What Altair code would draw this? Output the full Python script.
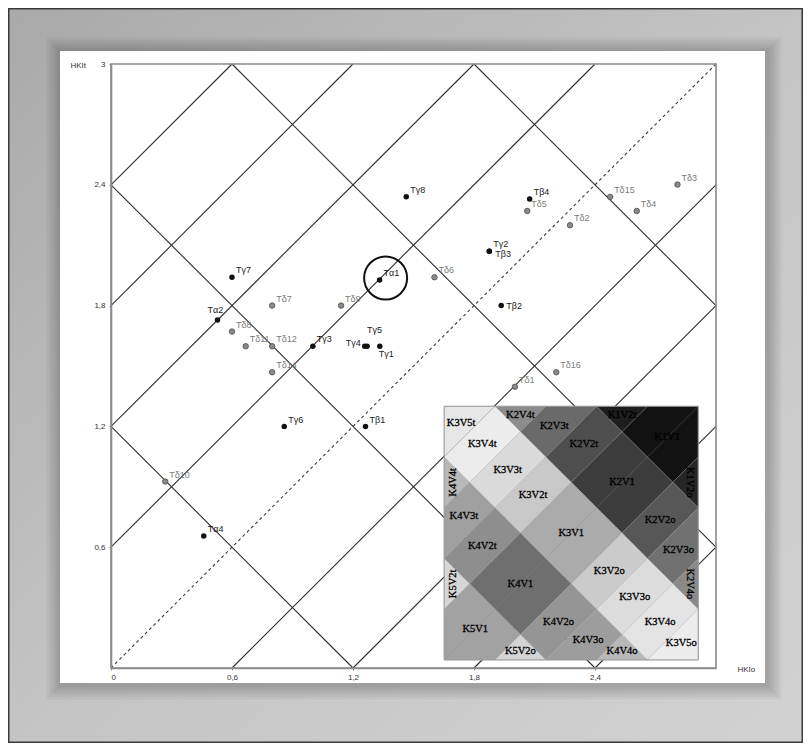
import altair as alt
import pandas as pd

# ------------------------------------------------------------------ data
names = ["Tα1", "Tα2", "Tα4",
         "Tβ1", "Tβ2", "Tβ3", "Tβ4",
         "Tγ1", "Tγ2", "Tγ3", "Tγ4", "Tγ5", "Tγ6", "Tγ7", "Tγ8",
         "Tδ1", "Tδ2", "Tδ3", "Tδ4", "Tδ5", "Tδ6", "Tδ7", "Tδ8",
         "Tδ9", "Tδ10", "Tδ11", "Tδ12", "Tδ14", "Tδ15", "Tδ16"]
hkio = [1.332, 0.528, 0.460,
        1.262, 1.935, 1.876, 2.076,
        1.333, 1.876, 1.001, 1.258, 1.270, 0.859, 0.600, 1.464,
        2.003, 2.276, 2.809, 2.607, 2.064, 1.604, 0.799, 0.600,
        1.141, 0.269, 0.668, 0.799, 0.799, 2.475, 2.208]
hkit = [1.927, 1.729, 0.656,
        1.199, 1.800, 2.070, 2.330,
        1.598, 2.070, 1.598, 1.598, 1.598, 1.199, 1.941, 2.341,
        1.397, 2.199, 2.401, 2.270, 2.270, 1.941, 1.800, 1.671,
        1.800, 0.926, 1.598, 1.598, 1.469, 2.340, 1.469]
circled = ["Tα1"]

x_ticks = [0, 0.6, 1.2, 1.8, 2.4]
y_ticks = [0.6, 1.2, 1.8, 2.4, 3.0]

asc_offsets = [2.4, 1.8, 1.2, 0.6, -0.6, -1.2, -1.8, -2.4]   # lines y = x + c
desc_sums = [1.2, 2.4, 3.6, 4.8]                              # lines x + y = c

# zone map (inset): K bands on x+y, V bands on y-x
k_names = ["K1", "K2", "K3", "K4", "K5"]
k_lo = [4.8, 3.6, 2.4, 1.2, 0.0]
k_hi = [6.0, 4.8, 3.6, 2.4, 1.2]
v_names = ["V5t", "V4t", "V3t", "V2t", "V1", "V2o", "V3o", "V4o", "V5o"]
v_lo = [2.4, 1.8, 1.2, 0.6, -0.6, -1.2, -1.8, -2.4, -3.0]
v_hi = [3.0, 2.4, 1.8, 1.2, 0.6, -0.6, -1.2, -1.8, -2.4]
zone_gray = {
    "K1V1": "#121212", "K1V2t": "#1e1e1e", "K1V2o": "#262626",
    "K2V1": "#3c3c3c", "K2V2t": "#4e4e4e", "K2V2o": "#575757",
    "K2V3t": "#6a6a6a", "K2V3o": "#717171", "K2V4t": "#8c8c8c", "K2V4o": "#8a8a8a",
    "K3V1": "#ababab", "K3V2t": "#c9c9c9", "K3V2o": "#cbcbcb",
    "K3V3t": "#dadada", "K3V3o": "#dcdcdc", "K3V4t": "#ececec", "K3V4o": "#e4e4e4",
    "K3V5t": "#e6e6e6", "K3V5o": "#ececec",
    "K4V1": "#6f6f6f", "K4V2t": "#8e8e8e", "K4V2o": "#959595",
    "K4V3t": "#a0a0a0", "K4V3o": "#9d9d9d", "K4V4t": "#b8b8b8", "K4V4o": "#b9b9b9",
    "K5V1": "#a2a2a2", "K5V2t": "#d6d6d6", "K5V2o": "#d4d4d4",
}

# ------------------------------------------------------------------ layout / style
W, H = 605, 604
PAD = {"left": 103, "top": 56, "right": 87, "bottom": 75}
INSET_X0, INSET_Y0, INSET_SIDE = 1.652, 0.040, 1.26
label_place = {"Tγ4": "l", "Tγ5": "u", "Tγ1": "dr", "Tβ2": "r", "Tβ3": "r3", "Tα2": "uc"}
place_style = {
    "ur": dict(align="left", baseline="bottom", dx=4, dy=-2),
    "l": dict(align="right", baseline="middle", dx=-4, dy=-3),
    "u": dict(align="left", baseline="bottom", dx=0, dy=-11),
    "dr": dict(align="left", baseline="top", dx=-1, dy=4),
    "r": dict(align="left", baseline="middle", dx=5, dy=0),
    "r3": dict(align="left", baseline="middle", dx=6, dy=3),
    "uc": dict(align="center", baseline="bottom", dx=-2, dy=-5),
}
SANS = "Liberation Sans"
SERIF = "Liberation Serif"

# ------------------------------------------------------------------ derived tables
pts = pd.DataFrame({"name": names, "x": hkio, "y": hkit})
pts["grp"] = ["gray" if "δ" in n else "dark" for n in names]
pts["place"] = [label_place.get(n, "ur") for n in names]

segs = []
for c in asc_offsets:
    if c > 0:
        segs.append((0.0, c, 3.0 - c, 3.0))
    else:
        segs.append((-c, 0.0, 3.0, 3.0 + c))
for d in desc_sums:
    if d <= 3:
        segs.append((0.0, d, d, 0.0))
    else:
        segs.append((d - 3.0, 3.0, 3.0, d - 3.0))
grid_df = pd.DataFrame(segs, columns=["x", "y", "x2", "y2"])
diag_df = pd.DataFrame({"x": [0.0], "y": [0.0], "x2": [3.0], "y2": [3.0]})


def clip_square(poly, lo=0.0, hi=3.0):
    def clip(points, inside, inter):
        out = []
        for i in range(len(points)):
            cur, prev = points[i], points[i - 1]
            if inside(cur):
                if not inside(prev):
                    out.append(inter(prev, cur))
                out.append(cur)
            elif inside(prev):
                out.append(inter(prev, cur))
        return out

    def ix(v):
        return lambda a, b: (v, a[1] + (v - a[0]) / (b[0] - a[0]) * (b[1] - a[1]))

    def iy(v):
        return lambda a, b: (a[0] + (v - a[1]) / (b[1] - a[1]) * (b[0] - a[0]), v)

    e = 1e-9
    p = clip(poly, lambda q: q[0] >= lo - e, ix(lo))
    if p: p = clip(p, lambda q: q[0] <= hi + e, ix(hi))
    if p: p = clip(p, lambda q: q[1] >= lo - e, iy(lo))
    if p: p = clip(p, lambda q: q[1] <= hi + e, iy(hi))
    clean = []
    for q in p:
        q = (round(q[0], 9), round(q[1], 9))
        if not clean or q != clean[-1]:
            clean.append(q)
    if len(clean) > 1 and clean[0] == clean[-1]:
        clean.pop()
    return clean


def extent_at(poly, xv):
    ys = []
    n = len(poly)
    for i in range(n):
        a, b = poly[i], poly[(i + 1) % n]
        if abs(a[0] - xv) < 1e-9:
            ys.append(a[1])
        if (min(a[0], b[0]) - 1e-9 <= xv <= max(a[0], b[0]) + 1e-9) and abs(b[0] - a[0]) > 1e-9:
            t = (xv - a[0]) / (b[0] - a[0])
            ys.append(a[1] + t * (b[1] - a[1]))
    return min(ys), max(ys)


def area_centroid(poly):
    a = cx = cy = 0.0
    n = len(poly)
    for i in range(n):
        x0, y0 = poly[i]
        x1, y1 = poly[(i + 1) % n]
        cr = x0 * y1 - x1 * y0
        a += cr
        cx += (x0 + x1) * cr
        cy += (y0 + y1) * cr
    a *= 0.5
    return a, cx / (6 * a), cy / (6 * a)


k_scale = INSET_SIDE / 3.0
cell_tables, lab_rows = [], []
for kn, ul, uh in zip(k_names, k_lo, k_hi):
    for vn, vl, vh in zip(v_names, v_lo, v_hi):
        cell = kn + vn
        corners = [(ul, vl), (uh, vl), (uh, vh), (ul, vh)]
        poly = [((u - v) / 2, (u + v) / 2) for u, v in corners]
        poly = clip_square(poly)
        if len(poly) < 3:
            continue
        a, cx, cy = area_centroid(poly)
        if abs(a) < 1e-6:
            continue
        xs = sorted(set(round(q[0], 9) for q in poly))
        rows = []
        for xv in xs:
            lo, hi = extent_at(poly, xv)
            rows.append({"x": INSET_X0 + k_scale * xv,
                         "ylo": INSET_Y0 + k_scale * lo,
                         "yhi": INSET_Y0 + k_scale * hi})
        cell_tables.append((cell, pd.DataFrame(rows)))
        w = max(q[0] for q in poly) - min(q[0] for q in poly)
        h = max(q[1] for q in poly) - min(q[1] for q in poly)
        ang = 0
        if w < 0.4 and h > w * 1.5:
            ang = 270 if min(q[0] for q in poly) < 1e-6 else 90
        lab_rows.append({"cell": cell, "x": INSET_X0 + k_scale * cx,
                         "y": INSET_Y0 + k_scale * cy, "ang": ang})
lab_df = pd.DataFrame(lab_rows)
inset_box = pd.DataFrame({"x": [INSET_X0], "x2": [INSET_X0 + INSET_SIDE],
                          "y": [INSET_Y0], "y2": [INSET_Y0 + INSET_SIDE]})

# ------------------------------------------------------------------ scales / axes
xscale = alt.Scale(domain=[0, 3], nice=False, zero=False)
yscale = alt.Scale(domain=[0, 3], nice=False, zero=False)
lab_expr = ("datum.value == 0 ? '0' : datum.value == 3 ? '3' : "
            "replace(format(datum.value, '.1f'), '.', ',')")
xaxis = alt.Axis(values=x_ticks, labelExpr=lab_expr, grid=False, tickSize=2,
                 tickColor="#8a8a8a", domainColor="#8a8a8a", domainWidth=1.6,
                 labelFont=SANS, labelFontSize=8, labelColor="#333333", labelPadding=3,
                 title="HKIo", titleAngle=0, titleX=626, titleY=1, titleAlign="left",
                 titleBaseline="middle", titleFont=SANS, titleFontSize=8,
                 titleFontWeight="normal", titleColor="#333333", zindex=1)
yaxis = alt.Axis(values=y_ticks, labelExpr=lab_expr, grid=False, tickSize=2,
                 tickColor="#8a8a8a", domainColor="#8a8a8a", domainWidth=1.6,
                 labelFont=SANS, labelFontSize=8, labelColor="#333333", labelPadding=4,
                 title="HKIt", titleAngle=0, titleX=-41, titleY=1, titleAlign="left",
                 titleBaseline="middle", titleFont=SANS, titleFontSize=8,
                 titleFontWeight="normal", titleColor="#333333", zindex=1)


def X(f):
    return alt.X(f, type="quantitative", scale=xscale, axis=xaxis)


def Y(f):
    return alt.Y(f, type="quantitative", scale=yscale, axis=yaxis)


one = pd.DataFrame({"a": [0]})


def deco_rect(x1, x2, y1, y2, **mk):
    return alt.Chart(one).mark_rect(**mk).encode(
        x=alt.value(x1), x2=alt.value(x2), y=alt.value(y1), y2=alt.value(y2))


layers = []
# page background with gradient and frame
tot_w = W + PAD["left"] + PAD["right"]
tot_h = H + PAD["top"] + PAD["bottom"]
grad = alt.LinearGradient(gradient="linear",
                          stops=[alt.GradientStop(color="#a9a9a9", offset=0),
                                 alt.GradientStop(color="#c4c4c4", offset=0.5),
                                 alt.GradientStop(color="#d2d2d2", offset=1)],
                          x1=0, x2=1, y1=0, y2=1)
layers.append(deco_rect(-PAD["left"], tot_w - PAD["left"], -PAD["top"], tot_h - PAD["top"],
                        fill=grad))
layers.append(deco_rect(-PAD["left"] + 0.75, tot_w - PAD["left"] - 0.75,
                        -PAD["top"] + 0.75, tot_h - PAD["top"] - 0.75,
                        fillOpacity=0, stroke="#3a3a3a", strokeWidth=1.5))
# white panel with soft shadow
PX1, PX2, PY1, PY2 = -51, 654, -13, 619
for i in range(1, 7):
    g = 2.4 * i
    layers.append(deco_rect(PX1 - g + 1, PX2 + g + 2, PY1 - g + 1, PY2 + g + 2,
                            fill="#000000", opacity=0.035))
layers.append(deco_rect(PX1, PX2, PY1, PY2, fill="#ffffff"))

# diagonal grid
layers.append(alt.Chart(grid_df).mark_rule(color="#2e2e2e", strokeWidth=1.1).encode(
    x=X("x"), y=Y("y"), x2="x2", y2="y2"))
layers.append(alt.Chart(diag_df).mark_rule(color="#3a3a3a", strokeWidth=1.1,
                                            strokeDash=[3, 3]).encode(
    x=X("x"), y=Y("y"), x2="x2", y2="y2"))
# plot frame
layers.append(deco_rect(0, W, 0, H, fillOpacity=0, stroke="#8a8a8a", strokeWidth=1.6))

# inset zone map: one filled area per zone cell
for cell, tab in cell_tables:
    layers.append(alt.Chart(tab).mark_area(fill=zone_gray[cell], stroke="#8c8c8c",
                                           strokeWidth=0.4, strokeOpacity=0.6,
                                           opacity=1).encode(
        x=X("x"), y=Y("ylo"), y2="yhi"))
inset_diag = pd.DataFrame({"x": [INSET_X0], "y": [INSET_Y0],
                           "x2": [INSET_X0 + INSET_SIDE], "y2": [INSET_Y0 + INSET_SIDE]})
layers.append(alt.Chart(inset_diag).mark_rule(color="#8a8a8a", strokeWidth=0.6,
                                               opacity=0.6).encode(
    x=X("x"), y=Y("y"), x2="x2", y2="y2"))
layers.append(alt.Chart(inset_box).mark_rect(fillOpacity=0, stroke="#9a9a9a",
                                              strokeWidth=1).encode(
    x=X("x"), x2="x2", y=Y("y"), y2="y2"))
for ang in [0, 90, 270]:
    sub = lab_df[lab_df["ang"] == ang]
    if len(sub) == 0:
        continue
    layers.append(alt.Chart(sub).mark_text(font=SERIF, fontSize=10.5, color="#000000",
                                           stroke="#000000", strokeWidth=0.3,
                                           angle=ang, align="center",
                                           baseline="middle").encode(
        x=X("x"), y=Y("y"), text="cell:N"))

# points
layers.append(alt.Chart(pts[pts["grp"] == "gray"]).mark_point(
    filled=True, size=30, fill="#8a8a8a", stroke="#4a4a4a", strokeWidth=0.8,
    opacity=1).encode(x=X("x"), y=Y("y")))
layers.append(alt.Chart(pts[pts["grp"] == "dark"]).mark_point(
    filled=True, size=30, color="#111111", opacity=1).encode(x=X("x"), y=Y("y")))

# point labels
lab_color = alt.Color("grp:N", scale=alt.Scale(domain=["dark", "gray"],
                                               range=["#1a1a1a", "#7c7c7c"]), legend=None)
for pl, st in place_style.items():
    sub = pts[pts["place"] == pl]
    if len(sub) == 0:
        continue
    layers.append(alt.Chart(sub).mark_text(font=SANS, fontSize=9, **st).encode(
        x=X("x"), y=Y("y"), text="name:N", color=lab_color))

# circle around the highlighted sample
layers.append(alt.Chart(pts[pts["name"].isin(circled)]).mark_point(
    shape="circle", filled=False, size=1850, stroke="#111111", strokeWidth=2,
    xOffset=6, yOffset=-2, opacity=1).encode(x=X("x"), y=Y("y")))

chart = alt.layer(*layers).properties(
    width=W, height=H,
    autosize=alt.AutoSizeParams(type="none"),
    padding=PAD,
).configure_view(strokeWidth=0)

chart.save("out.html", embed_options={"renderer": "svg", "actions": False})
